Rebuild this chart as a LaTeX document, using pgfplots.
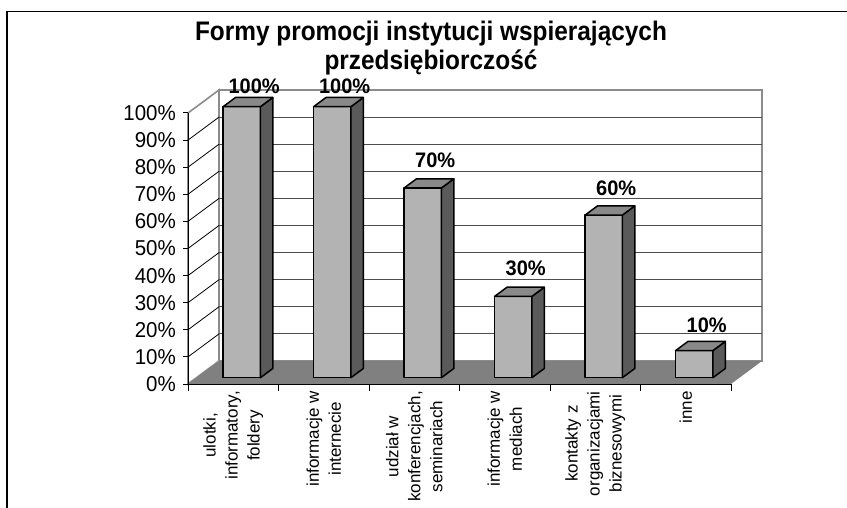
\documentclass[border=0pt]{standalone}
\usepackage{pgfplots}
\pgfplotsset{compat=1.18}
\usepackage{fontspec}
\setmainfont{Liberation Sans}
\definecolor{barfront}{HTML}{B3B3B3}
\definecolor{barside}{HTML}{5A5A5A}
\definecolor{bartop}{HTML}{898989}
\definecolor{floorc}{HTML}{808080}
\definecolor{wallc}{HTML}{8C8C8C}
\definecolor{gridc}{HTML}{4D4D4D}
\tikzset{
  vlabel/.style={font=\bfseries\fontsize{20}{24}\selectfont, anchor=base, inner sep=0pt, yscale=1.05},
  catlabel/.style={rotate=90, anchor=east, align=center, inner sep=0pt, font=\fontsize{17}{22}\selectfont},
  ticklab/.style={anchor=east, inner sep=0pt, font=\fontsize{20.5}{24}\selectfont, yscale=1.05}
}
\newcommand\ya{0.274}
\newcommand\yb{0.674}
% #1 category centre, #2 value, #3 label lift (pt)
\newcommand\cube[3]{%
  \pgfmathsetmacro\xl{#1-0.206}%
  \pgfmathsetmacro\xr{#1+0.206}%
  \edef\tmp{%
    \noexpand\addplot3[fill=barfront,draw=black,line width=1.5pt,line join=round] coordinates {(\xl,\ya,0) (\xr,\ya,0) (\xr,\ya,#2) (\xl,\ya,#2)} -- cycle;
    \noexpand\addplot3[fill=barside,draw=black,line width=1.5pt,line join=round] coordinates {(\xr,\ya,0) (\xr,\yb,0) (\xr,\yb,#2) (\xr,\ya,#2)} -- cycle;
    \noexpand\addplot3[fill=bartop,draw=black,line width=1.5pt,line join=round] coordinates {(\xl,\ya,#2) (\xr,\ya,#2) (\xr,\yb,#2) (\xl,\yb,#2)} -- cycle;
    \noexpand\node[vlabel] at ([yshift=#3pt]axis cs:#1,\yb,#2) {#2\noexpand\%};
  }\tmp}
\begin{document}
\begin{tikzpicture}
\draw[line width=1.4pt] (7pt,-530pt) -- (7pt,-11.5pt) -- (870pt,-11.5pt);
\node[font=\bfseries\fontsize{24.4}{29}\selectfont, anchor=base, yscale=1.1] at (431pt,-41pt) {Formy promocji instytucji wspierających};
\node[font=\bfseries\fontsize{24.4}{29}\selectfont, anchor=base, yscale=1.1] at (431pt,-70pt) {przedsiębiorczość};
\begin{axis}[at={(188pt,-384pt)}, anchor=origin,
  x={(90.5pt,0pt)}, y={(31pt,23pt)}, z={(0pt,2.71pt)},
  xmin=0, xmax=6, ymin=0, ymax=1, zmin=0, zmax=100,
  hide axis, clip=false]
% walls
\addplot3[fill=white, draw=wallc, line width=1.6pt] coordinates {(0,1,0) (6,1,0) (6,1,100) (0,1,100)} -- cycle;
\addplot3[fill=white, draw=wallc, line width=1.6pt] coordinates {(0,0,0) (0,1,0) (0,1,100) (0,0,100)} -- cycle;
% grid lines
\pgfplotsinvokeforeach{10,20,...,90}{
  \draw[gridc, line width=0.9pt] (axis cs:0,1,#1) -- (axis cs:6,1,#1);
  \draw[black, line width=0.8pt] (axis cs:0,0,#1) -- (axis cs:0,1,#1);
}
% floor
\addplot3[fill=floorc, draw=none] coordinates {(0,0,0) (6,0,0) (6,1,0) (0,1,0)} -- cycle;
% axes
\draw[black, line width=1pt] (axis cs:0,0,0) -- (axis cs:0,0,100);
\draw[black, line width=1pt] (axis cs:0,0,0) -- (axis cs:6,0,0);
\pgfplotsinvokeforeach{0,10,...,100}{
  \draw[black, line width=1pt] (axis cs:0,0,#1) -- ++(-5pt,0pt);
  \node[ticklab] at ([xshift=-12pt]axis cs:0,0,#1) {#1\%};
}
\pgfplotsinvokeforeach{0,1,...,6}{
  \draw[black, line width=1pt] (axis cs:#1,0,0) -- ++(0pt,-7pt);
}
% bars
\cube{0.5}{100}{4}
\cube{1.5}{100}{4}
\cube{2.5}{70}{11}
\cube{3.5}{30}{12}
\cube{4.5}{60}{10}
\cube{5.5}{10}{9}
% category labels
\node[catlabel] at ([yshift=-7pt]axis cs:0.5,0,0) {ulotki,\\informatory,\\foldery};
\node[catlabel] at ([yshift=-7pt]axis cs:1.5,0,0) {informacje w\\internecie};
\node[catlabel] at ([yshift=-7pt]axis cs:2.5,0,0) {udział w\\konferencjach,\\seminariach};
\node[catlabel] at ([yshift=-7pt]axis cs:3.5,0,0) {informacje w\\mediach};
\node[catlabel] at ([yshift=-7pt]axis cs:4.5,0,0) {kontakty z\\organizacjami\\biznesowymi};
\node[catlabel] at ([yshift=-7pt]axis cs:5.5,0,0) {inne};
\end{axis}
\pgfresetboundingbox
\path[use as bounding box] (0pt,0pt) rectangle (847pt,-508pt);
\end{tikzpicture}
\end{document}
